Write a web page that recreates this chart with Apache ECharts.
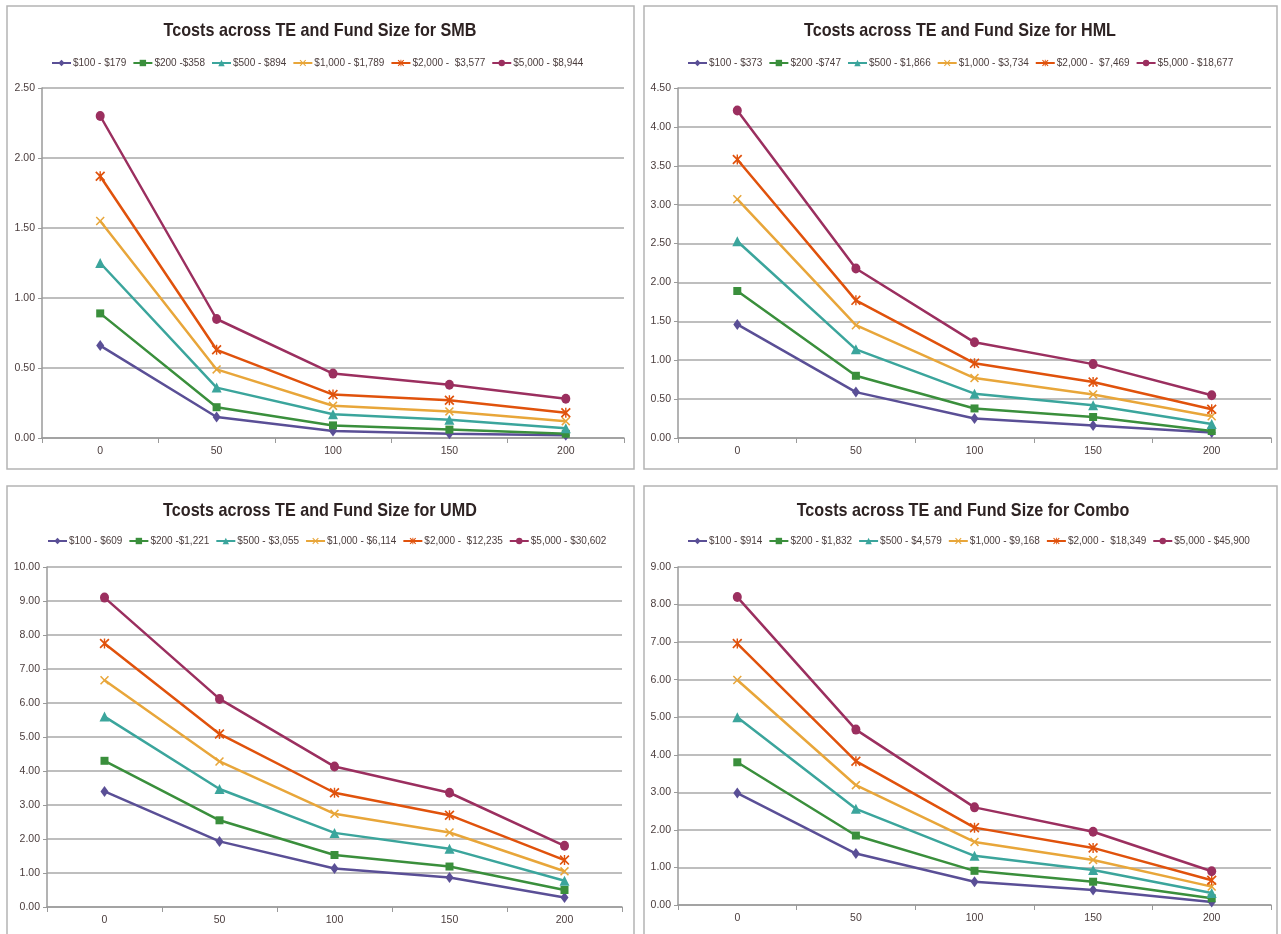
<!DOCTYPE html>
<html><head><meta charset="utf-8">
<script src="https://cdn.jsdelivr.net/npm/echarts@6/dist/echarts.min.js"></script>
<style>html,body{margin:0;padding:0;background:#fff}#c{width:1281px;height:934px}</style>
</head><body><div id="c"></div>
<script>
const teLevels = ['0', '50', '100', '150', '200'];

const smbNames = ['$100 - $179', '$200 -$358', '$500 - $894', '$1,000 - $1,789', '$2,000 -  $3,577', '$5,000 - $8,944'];
const smbValues = [
  [0.66, 0.15, 0.05, 0.03, 0.02],
  [0.89, 0.22, 0.09, 0.06, 0.03],
  [1.25, 0.36, 0.17, 0.13, 0.07],
  [1.55, 0.49, 0.23, 0.19, 0.12],
  [1.87, 0.63, 0.31, 0.27, 0.18],
  [2.30, 0.85, 0.46, 0.38, 0.28]
];

const hmlNames = ['$100 - $373', '$200 -$747', '$500 - $1,866', '$1,000 - $3,734', '$2,000 -  $7,469', '$5,000 - $18,677'];
const hmlValues = [
  [1.46, 0.59, 0.25, 0.16, 0.07],
  [1.89, 0.80, 0.38, 0.27, 0.09],
  [2.53, 1.14, 0.57, 0.42, 0.18],
  [3.07, 1.45, 0.77, 0.56, 0.28],
  [3.58, 1.77, 0.96, 0.72, 0.37],
  [4.21, 2.18, 1.23, 0.95, 0.55]
];

const umdNames = ['$100 - $609', '$200 -$1,221', '$500 - $3,055', '$1,000 - $6,114', '$2,000 -  $12,235', '$5,000 - $30,602'];
const umdValues = [
  [3.40, 1.93, 1.13, 0.87, 0.28],
  [4.30, 2.55, 1.53, 1.19, 0.50],
  [5.60, 3.47, 2.18, 1.71, 0.77],
  [6.67, 4.28, 2.74, 2.19, 1.05],
  [7.75, 5.09, 3.36, 2.70, 1.38],
  [9.10, 6.12, 4.13, 3.36, 1.80]
];

const comboNames = ['$100 - $914', '$200 - $1,832', '$500 - $4,579', '$1,000 - $9,168', '$2,000 -  $18,349', '$5,000 - $45,900'];
const comboValues = [
  [2.98, 1.37, 0.62, 0.40, 0.08],
  [3.80, 1.85, 0.91, 0.62, 0.18],
  [5.00, 2.56, 1.31, 0.93, 0.32],
  [5.99, 3.19, 1.68, 1.20, 0.49],
  [6.96, 3.83, 2.06, 1.52, 0.66],
  [8.20, 4.67, 2.60, 1.95, 0.90]
];

const chartTitles = ['Tcosts across TE and Fund Size for SMB', 'Tcosts across TE and Fund Size for HML',
  'Tcosts across TE and Fund Size for UMD', 'Tcosts across TE and Fund Size for Combo'];
const yMax = [2.5, 4.5, 10, 9];
const yStep = [0.5, 0.5, 1, 1];

const colors = ['#5a4f96', '#3a8f3c', '#3ba59c', '#e8a63a', '#e0520c', '#9b2f5f'];
const XMARK = 'path://M0,1.2L1.2,0L5,3.8L8.8,0L10,1.2L6.2,5L10,8.8L8.8,10L5,6.2L1.2,10L0,8.8L3.8,5Z';
const STAR = 'path://M0,1.2L1.2,0L5,3.8L8.8,0L10,1.2L6.2,5L10,8.8L8.8,10L5,6.2L1.2,10L0,8.8L3.8,5Z M4.3,0L5.7,0L5.7,10L4.3,10Z';
const symbols = ['diamond', 'rect', 'triangle', XMARK, STAR, 'circle'];
const symSizes = [[8, 11], 8, 10, 9, 10, [9, 10]];

const FONT = '"Liberation Sans", Arial, sans-serif';
const TXT = '#4a3c3c';

const allNames = [smbNames, hmlNames, umdNames, comboNames];
const allValues = [smbValues, hmlValues, umdValues, comboValues];

const panels = [
  { box: [7, 6, 627, 463], grid: { left: 42, top: 88, width: 582, height: 350 }, titleX: 320, titleY: 31, legX: 46, legY: 53 },
  { box: [644, 6, 633, 463], grid: { left: 678, top: 88, width: 593, height: 350 }, titleX: 960, titleY: 31, legX: 682, legY: 53 },
  { box: [7, 486, 627, 460], grid: { left: 47, top: 567, width: 575, height: 340 }, titleX: 320, titleY: 511, legX: 42, legY: 531 },
  { box: [644, 486, 633, 460], grid: { left: 678, top: 567, width: 593, height: 338 }, titleX: 963, titleY: 511, legX: 682, legY: 531 }
];

const grids = [], xAxes = [], yAxes = [], series = [], legends = [], graphics = [];
panels.forEach((p, i) => {
  graphics.push({ type: 'rect', shape: { x: p.box[0], y: p.box[1], width: p.box[2], height: p.box[3] },
    style: { fill: 'none', stroke: '#b4b4b4', lineWidth: 1.5 }, z: -1 });
  graphics.push({ type: 'text', x: p.titleX, y: p.titleY, scaleX: 0.85, z: 10,
    style: { text: chartTitles[i], font: 'bold 19px ' + FONT, fill: '#2e2323', align: 'center', verticalAlign: 'middle' } });
  grids.push(Object.assign({ containLabel: false }, p.grid));
  legends.push({ data: allNames[i], left: p.legX, top: p.legY, width: 640, itemGap: 6, itemWidth: 19, itemHeight: 8,
    textStyle: { fontFamily: FONT, fontSize: 10, color: TXT, padding: [0, 0, 0, -3] }, selectedMode: false });
  xAxes.push({ type: 'category', gridIndex: i, data: teLevels, boundaryGap: true,
    axisLine: { lineStyle: { color: '#9a9a9a', width: 1.5 } },
    axisTick: { show: true, length: 5, lineStyle: { color: '#9a9a9a' } },
    axisLabel: { fontFamily: FONT, fontSize: 10.5, color: TXT, margin: 8 } });
  yAxes.push({ type: 'value', gridIndex: i, min: 0, max: yMax[i], interval: yStep[i],
    axisLine: { show: true, lineStyle: { color: '#9a9a9a', width: 1.5 } },
    axisTick: { show: true, length: 4, lineStyle: { color: '#9a9a9a' } },
    splitLine: { lineStyle: { color: '#a8a8a8', width: 1.5 } },
    axisLabel: { fontFamily: FONT, fontSize: 10.5, color: TXT, margin: 7, formatter: v => v.toFixed(2) } });
  allValues[i].forEach((vals, k) => {
    series.push({ type: 'line', name: allNames[i][k], xAxisIndex: i, yAxisIndex: i, data: vals,
      symbol: symbols[k], symbolSize: symSizes[k], showAllSymbol: true,
      lineStyle: { color: colors[k], width: 2.5 },
      itemStyle: { color: colors[k], borderColor: colors[k], borderWidth: 0 },
      z: 2 + k, animation: false });
  });
});

const chart = echarts.init(document.getElementById('c'), null, { renderer: 'canvas' });
chart.setOption({
  animation: false,
  backgroundColor: '#ffffff',
  legend: legends, grid: grids, xAxis: xAxes, yAxis: yAxes, series: series,
  graphic: graphics
});
</script></body></html>
